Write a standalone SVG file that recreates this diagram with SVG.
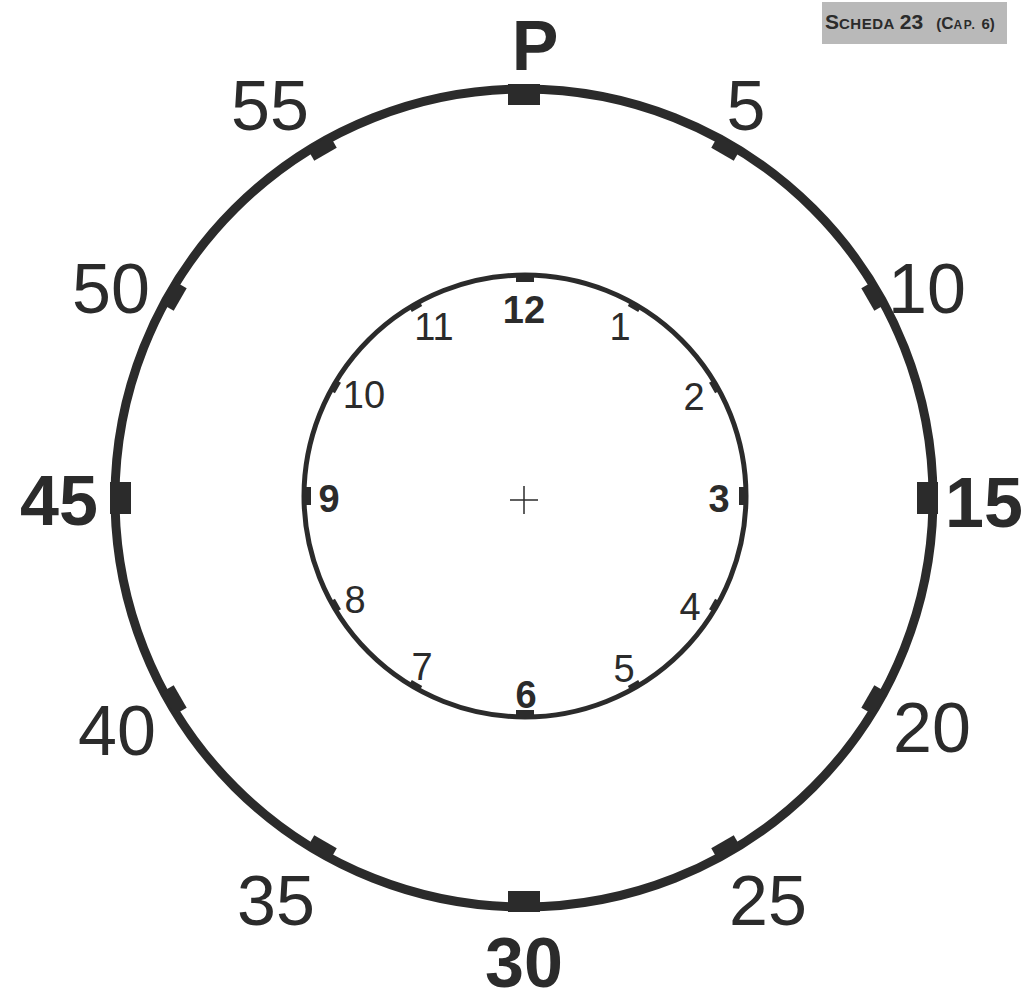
<svg xmlns="http://www.w3.org/2000/svg" width="1028" height="1002" viewBox="0 0 1028 1002">
<style>
.ink{fill:#2b2b2b}
.ring{fill:none;stroke:#2b2b2b}
.big{font-family:"Liberation Sans",Arial,sans-serif;font-size:70px;fill:#2b2b2b;text-anchor:middle}
.sm{font-family:"Liberation Sans",Arial,sans-serif;font-size:38px;fill:#2b2b2b;text-anchor:middle}
.b{font-weight:bold}
</style>
<defs>
<rect id="om" x="508" y="84" width="32" height="21" class="ink"/>
<rect id="on" x="511" y="87" width="26" height="14" class="ink"/>
<rect id="im" x="516" y="273" width="18" height="9" class="ink"/>
<rect id="in" x="519" y="274" width="12" height="6" class="ink"/>
</defs>
<rect width="1028" height="1002" fill="#ffffff"/>
<g id="badge">
<rect x="822" y="2" width="185" height="42" fill="#b9b9b9"/>
<text x="825" y="29" font-family="Liberation Sans,Arial,sans-serif" font-weight="bold" fill="#2b2b2b"><tspan font-size="21">S</tspan><tspan font-size="15" letter-spacing="0.5">CHEDA</tspan><tspan font-size="21" dx="5">23</tspan><tspan font-size="15" dx="13">(</tspan><tspan font-size="17">C</tspan><tspan font-size="12" letter-spacing="1.5">AP.</tspan><tspan font-size="15" dx="5">6</tspan><tspan font-size="15">)</tspan></text>
</g>
<g id="outer-dial">
<circle cx="524" cy="498" r="409" class="ring" stroke-width="9"/>
<use href="#om"/>
<use href="#om" transform="rotate(90,524,498)"/>
<use href="#om" transform="rotate(180,524,498)"/>
<use href="#om" transform="rotate(270,524,498)"/>
<use href="#on" transform="rotate(30,524,498)"/>
<use href="#on" transform="rotate(60,524,498)"/>
<use href="#on" transform="rotate(120,524,498)"/>
<use href="#on" transform="rotate(150,524,498)"/>
<use href="#on" transform="rotate(210,524,498)"/>
<use href="#on" transform="rotate(240,524,498)"/>
<use href="#on" transform="rotate(300,524,498)"/>
<use href="#on" transform="rotate(330,524,498)"/>
</g>
<g id="outer-labels">
<text class="big b" x="535" y="70">P</text>
<text class="big" x="746" y="130">5</text>
<text class="big" x="927" y="313">10</text>
<text class="big b" x="984" y="527">15</text>
<text class="big" x="932" y="752">20</text>
<text class="big" x="768" y="925">25</text>
<text class="big b" x="524" y="987">30</text>
<text class="big" x="276" y="925">35</text>
<text class="big" x="117" y="755">40</text>
<text class="big b" x="59" y="525">45</text>
<text class="big" x="111" y="313">50</text>
<text class="big" x="270" y="130">55</text>
</g>
<g id="inner-dial">
<circle cx="525" cy="496" r="221" class="ring" stroke-width="5"/>
<use href="#im"/>
<use href="#im" transform="rotate(90,525,496)"/>
<use href="#im" transform="rotate(180,525,496)"/>
<use href="#im" transform="rotate(270,525,496)"/>
<use href="#in" transform="rotate(30,525,496)"/>
<use href="#in" transform="rotate(60,525,496)"/>
<use href="#in" transform="rotate(120,525,496)"/>
<use href="#in" transform="rotate(150,525,496)"/>
<use href="#in" transform="rotate(210,525,496)"/>
<use href="#in" transform="rotate(240,525,496)"/>
<use href="#in" transform="rotate(300,525,496)"/>
<use href="#in" transform="rotate(330,525,496)"/>
</g>
<g id="inner-labels">
<text class="sm b" x="524" y="323">12</text>
<text class="sm" x="620" y="340">1</text>
<text class="sm" x="694" y="410">2</text>
<text class="sm b" x="719" y="512">3</text>
<text class="sm" x="690" y="620">4</text>
<text class="sm" x="624" y="682">5</text>
<text class="sm b" x="526" y="708">6</text>
<text class="sm" x="422" y="680">7</text>
<text class="sm" x="355" y="613">8</text>
<text class="sm b" x="329" y="512">9</text>
<text class="sm" x="364" y="408">10</text>
<text class="sm" x="434" y="340">11</text>
</g>
<g id="centre-cross" stroke="#2b2b2b" stroke-width="1.5">
<line x1="510" y1="500" x2="538" y2="500"/>
<line x1="524" y1="486" x2="524" y2="514"/>
</g>
</svg>
